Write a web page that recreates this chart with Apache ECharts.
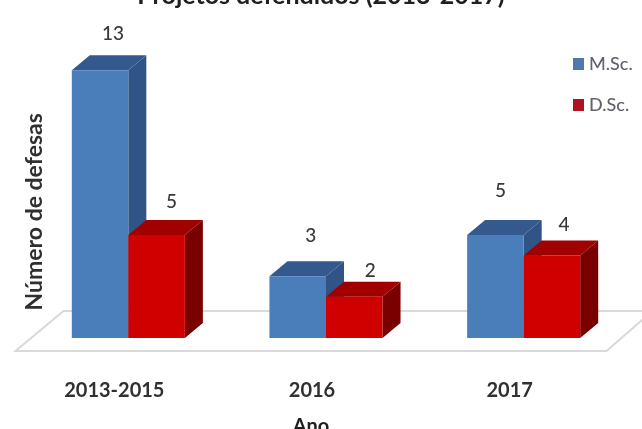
<!DOCTYPE html>
<html><head><meta charset="utf-8">
<style>html,body{margin:0;padding:0;background:#fff;overflow:hidden}#c{width:642px;height:429px;filter:blur(0.7px)}</style>
<script src="https://cdn.jsdelivr.net/npm/echarts@6/dist/echarts.min.js"></script>
</head><body><div id="c"></div>
<script>
const categories = ['2013-2015', '2016', '2017'];
const mscValues = [13, 3, 5];
const dscValues = [5, 2, 4];
const chartTitle = 'Projetos defendidos (2013-2017)';
const yAxisTitle = 'Número de defesas';
const xAxisTitle = 'Ano';

// style / layout constants
const FONT = 'Lato';
const DEPTH_X = 18, DEPTH_Y = 15;
const BAR_RATIO = 0.286;
const mscLabelNudge = [[13, -21], [13, -25], [5, -29]];
const dscLabelNudge = [[15, -18], [16, -11], [12, -16]];

const chart = echarts.init(document.getElementById('c'), null, {renderer: 'canvas'});

function barSeries(name, values, side, colors, nudge) {
  return {
    name, type: 'custom', coordinateSystem: 'cartesian2d', z: 3,
    data: values.map((v, i) => [i, v]),
    encode: {x: 0, y: 1},
    itemStyle: {color: colors.legend},
    renderItem(params, api) {
      const i = api.value(0), val = api.value(1);
      const base = api.coord([i, 0]);
      const top = api.coord([i, val]);
      const w = api.size([1, 0])[0] * BAR_RATIO;
      const x0 = base[0] + (side === 0 ? -w : 0), x1 = x0 + w;
      const y0 = top[1], y1 = base[1];
      const n = nudge[params.dataIndex];
      return {type: 'group', children: [
        {type: 'polygon', shape: {points: [[x1, y0], [x1 + DEPTH_X, y0 - DEPTH_Y], [x1 + DEPTH_X, y1 - DEPTH_Y], [x1, y1]]}, style: {fill: colors.side}},
        {type: 'polygon', shape: {points: [[x0, y0], [x0 + DEPTH_X, y0 - DEPTH_Y], [x1 + DEPTH_X, y0 - DEPTH_Y], [x1, y0]]}, style: {fill: colors.top}},
        {type: 'rect', shape: {x: x0, y: y0, width: w, height: y1 - y0}, style: {fill: colors.front}},
        {type: 'text', style: {
          text: String(val), x: (x0 + x1) / 2 + n[0], y: y0 - DEPTH_Y + n[1],
          align: 'center', verticalAlign: 'middle',
          font: '500 19px ' + FONT, fill: '#383838'
        }}
      ]};
    }
  };
}

const floorSeries = {
  type: 'custom', coordinateSystem: 'cartesian2d', silent: true, z: 1,
  data: [[0, 0]], encode: {x: 0, y: 1}, clip: false,
  renderItem(params, api) {
    const cs = params.coordSys;
    const y = api.coord([0, 0])[1];
    const l = cs.x, r = cs.x + cs.width;
    return {type: 'polygon', shape: {points: [
      [l - 14, y + 13], [r - 16, y + 13], [r + 30, y - 27], [l + 34, y - 27]
    ]}, style: {fill: '#ffffff', stroke: '#d9d9d9', lineWidth: 2}};
  }
};

chart.setOption({
  animation: false,
  backgroundColor: '#fff',
  title: {
    text: chartTitle, left: 'center', top: -22,
    textStyle: {fontFamily: FONT, fontWeight: 'bold', fontSize: 25, color: '#202020'}
  },
  legend: {
    data: ['M.Sc.', 'D.Sc.'], orient: 'vertical', left: 568, top: 50,
    itemWidth: 11, itemHeight: 12, itemGap: 23, icon: 'rect',
    textStyle: {fontFamily: FONT, fontSize: 18, fontWeight: 500, color: '#62626e'},
    selectedMode: false
  },
  grid: {left: 29.5, right: 19.5, top: 49.6, bottom: 91, outerBoundsMode: 'none'},
  xAxis: {
    type: 'category', data: categories, name: xAxisTitle, nameLocation: 'middle', nameGap: 79,
    nameTextStyle: {fontFamily: FONT, fontWeight: 'bold', fontSize: 20, color: '#202020', padding: [0, 30, 0, 0]},
    axisLine: {show: false}, axisTick: {show: false},
    axisLabel: {margin: 43, fontFamily: FONT, fontWeight: 'bold', fontSize: 20, color: '#303030', padding: [0, 28, 0, 0]}
  },
  yAxis: {
    type: 'value', min: 0, max: 14, interval: 2,
    name: yAxisTitle, nameLocation: 'middle', nameGap: -17,
    nameTextStyle: {fontFamily: FONT, fontWeight: 'bold', fontSize: 23, color: '#303030', padding: [0, 36, 0, 0]},
    axisLine: {show: false}, axisTick: {show: false}, axisLabel: {show: false}, splitLine: {show: false}
  },
  series: [
    floorSeries,
    barSeries('M.Sc.', mscValues, 0, {front: '#4a7ebb', top: '#34598f', side: '#2f5485', legend: '#4f79ad'}, mscLabelNudge),
    barSeries('D.Sc.', dscValues, 1, {front: '#cf0000', top: '#a00000', side: '#7a0000', legend: '#b01020'}, dscLabelNudge)
  ]
});
</script></body></html>
